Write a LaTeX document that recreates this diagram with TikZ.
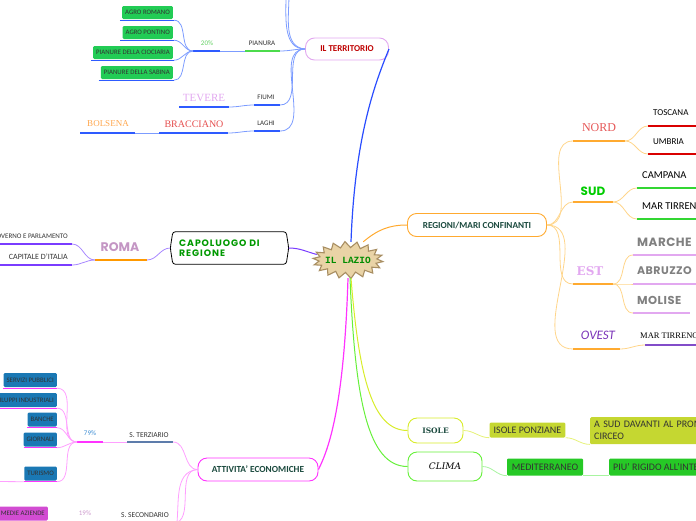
\documentclass[tikz,border=0pt]{standalone}
\usepackage{fontspec}
\setmainfont{Carlito}
\newfontfamily\popf{Poppins}
\newfontfamily\popw{Poppins}[LetterSpace=10]
\newfontfamily\popm{Poppins}[LetterSpace=4]
\newfontfamily\lserif{Liberation Serif}
\newfontfamily\lmono{Liberation Mono}
\newfontfamily\dserif{DejaVu Serif}
\definecolor{tline}{HTML}{7C9CFF}
\definecolor{ublue}{HTML}{2E5BFF}
\definecolor{mainblue}{HTML}{2A4DFF}
\definecolor{gbox}{HTML}{22CC55}
\definecolor{orgline}{HTML}{FFD58A}
\definecolor{orgmain}{HTML}{FFAA30}
\definecolor{purp}{HTML}{7A3CFF}
\definecolor{lpurp}{HTML}{A888FF}
\definecolor{magen}{HTML}{FF33FF}
\definecolor{lmagen}{HTML}{FFA0FF}
\definecolor{ylg}{HTML}{D8EC2A}
\definecolor{lylg}{HTML}{E6F27A}
\definecolor{grn}{HTML}{66F03A}
\definecolor{lgrn}{HTML}{A8F4A0}
\definecolor{tbox}{HTML}{1A78B4}
\definecolor{dkgreen}{HTML}{1B4A3E}
\definecolor{txt}{HTML}{333333}
\definecolor{lav}{HTML}{E2A8F0}
\definecolor{starfill}{HTML}{E9D3A6}
\definecolor{starline}{HTML}{A88E62}
\begin{document}
\begin{tikzpicture}[x=1pt,y=-1pt,
  lbl/.style={inner sep=0pt, text=txt, font=\fontsize{7}{8}\selectfont},
  ul/.style={line width=1.3pt},
  con/.style={line width=0.8pt},
  gb/.style={fill=gbox, rounded corners=1.2pt, inner xsep=3pt, minimum height=13pt, inner ysep=0pt, anchor=east, text=txt, font=\fontsize{6.8}{7}\selectfont},
  tb/.style={fill=tbox, rounded corners=1.2pt, inner xsep=3pt, minimum height=14pt, inner ysep=0pt, anchor=east, text=txt, font=\fontsize{6.8}{7}\selectfont},
  rbox/.style={draw, rounded corners=9pt, line width=0.9pt, fill=white, inner sep=0pt},
  mbox/.style={rounded corners=1.2pt, inner xsep=4pt, inner ysep=0pt, text=txt, font=\fontsize{10}{12}\selectfont}
]
\useasboundingbox (0,0) rectangle (696,520);
\clip (0,0) rectangle (696,520);

% ===== centre =====
\draw[starline, fill=starfill, line width=1.1pt, line join=miter]
  plot[samples at={0,...,35}, variable=\i]
  ({348+ifthenelse(mod(\i,2)==0,35,29)*cos(10*\i+5)}, {260+ifthenelse(mod(\i,2)==0,18.5,12.5)*sin(10*\i+5)}) -- cycle;
\node[minimum width=62pt, minimum height=36pt, inner sep=0pt,
  font=\lmono\bfseries\fontsize{9.5}{10}\selectfont, text=green!55!black] (lazio) at (348,260) {IL LAZIO};

% ===== IL TERRITORIO =====
\node[rbox, draw=lav, minimum width=83pt, minimum height=22pt, text=red!75!black,
  font=\bfseries\fontsize{9}{10}\selectfont] (terr) at (347,49) {IL TERRITORIO};
\draw[mainblue, line width=1.2pt] ([xshift=3pt]lazio.north) .. controls +(4,-110) and +(-12,30) .. (terr.east);

\node[lbl] (pian) at (262,43) {PIANURA};
\coordinate (pianL) at (245,51); \coordinate (pianR) at (280,51);
\draw[ul, green!80!black!70] (pianL) -- (pianR);
\node[lbl, text=green!70!black!60] (p20) at (207,43) {20\%};
\coordinate (p20L) at (193,51); \coordinate (p20R) at (220,51);
\draw[ul, ublue] (p20L) -- (p20R);
\draw[con, tline] (terr.west) to[out=180,in=0] (pianR);
\draw[con, tline] (pianL) -- (p20R);

\node[gb] (agro1) at (173,12.5) {AGRO ROMANO};
\node[gb] (agro2) at (173,32.5) {AGRO PONTINO};
\node[gb] (agro3) at (173,52.5) {PIANURE DELLA CIOCIARIA};
\node[gb] (agro4) at (173,72.5) {PIANURE DELLA SABINA};
\foreach \n in {agro1,agro2,agro3,agro4}{
  \draw[ul, ublue] ([yshift=-1pt,xshift=-2pt]\n.south west) -- ([yshift=-1pt,xshift=1pt]\n.south east);
  \draw[con, tline] (p20L) to[out=180,in=0] ([yshift=-1pt,xshift=1pt]\n.south east);
}

\node[lbl] (fiumi) at (266,97) {FIUMI};
\coordinate (fiuL) at (254,105); \coordinate (fiuR) at (280,105);
\draw[ul, ublue] (fiuL) -- (fiuR);
\draw[con, tline] (terr.west) to[out=180,in=0] (fiuR);
\node[inner sep=0pt, text=lav, font=\lserif\fontsize{11}{12}\selectfont] (tevere) at (204,98) {TEVERE};
\coordinate (tevL) at (179,107); \coordinate (tevR) at (229,107);
\draw[ul, ublue] (tevL) -- (tevR);
\draw[con, tline] (fiuL) to[out=180,in=0] (tevR);

\node[lbl] (laghi) at (266,123) {LAGHI};
\coordinate (lagL) at (254,131); \coordinate (lagR) at (280,131);
\draw[ul, ublue] (lagL) -- (lagR);
\draw[con, tline] (terr.west) to[out=180,in=0] (lagR);
\node[inner sep=0pt, text=red!55!pink!90!black, font=\lserif\fontsize{10}{11}\selectfont] (brac) at (194,124) {BRACCIANO};
\coordinate (braL) at (159,133); \coordinate (braR) at (228,133);
\draw[ul, ublue] (braL) -- (braR);
\draw[con, tline] (lagL) to[out=180,in=0] (braR);
\node[inner sep=0pt, text=orange!70!white, font=\lserif\fontsize{9}{10}\selectfont] (bols) at (108,124) {BOLSENA};
\coordinate (bolL) at (80,133); \coordinate (bolR) at (135,133);
\draw[ul, ublue] (bolL) -- (bolR);
\draw[con, tline] (braL) -- (bolR);

\coordinate (tup1) at (286,-5); \coordinate (tup2) at (289,-5);
\draw[con, tline] (terr.west) to[out=180,in=-90] (tup1);
\draw[con, tline] (terr.west) to[out=175,in=-90] (tup2);

% ===== CAPOLUOGO =====
\node[minimum width=113pt, minimum height=32pt, inner sep=0pt] (capo) at (229.5,248) {};
\draw[line width=0.8pt, rounded corners=2.5pt] (capo.north west) -- (capo.north east) -- ([xshift=2.5pt]capo.east) -- (capo.south east) -- (capo.south west) -- ([xshift=-2.5pt]capo.west) -- cycle;
\node[anchor=west, inner sep=0pt, align=left, text=green!60!black, font=\popw\bfseries\fontsize{9.3}{10}\selectfont] (capot) at (179,248) {CAPOLUOGO DI\\REGIONE};
\draw[purp, line width=1pt] (capo.east) ++(2.5pt,0) to[out=0,in=165] (lazio.170);
\node[inner sep=0pt, text=violet!40!white!90!gray, font=\popf\bfseries\fontsize{12.5}{13}\selectfont] (roma) at (120,247) {ROMA};
\coordinate (romL) at (95,260); \coordinate (romR) at (147,260);
\draw[ul, orange!80!yellow] (romL) -- (romR);
\draw[con, lpurp] (capo.west) ++(-2.5pt,0) to[out=180,in=0] (romR);
\node[lbl, anchor=east] (gov) at (68,236) {GOVERNO E PARLAMENTO};
\coordinate (govL) at (-2,244); \coordinate (govR) at (72,244);
\node[lbl, anchor=east, font=\fontsize{8}{9}\selectfont] (cap) at (68,257) {CAPITALE D'ITALIA};
\coordinate (capL) at (-2,265); \coordinate (capR) at (72,265);
\draw[ul, purp] (govL) -- (govR);
\draw[ul, purp] (capL) -- (capR);
\draw[con, lpurp] (romL) to[out=180,in=0] (govR);
\draw[con, lpurp] (romL) to[out=180,in=0] (capR);

% ===== REGIONI/MARI CONFINANTI =====
\node[rbox, draw=orgmain, minimum width=139pt, minimum height=23pt, text=dkgreen,
  font=\bfseries\fontsize{9.2}{10}\selectfont] (reg) at (477,225) {REGIONI/MARI CONFINANTI};
\draw[orgmain, line width=1pt] (lazio.50) to[out=40,in=180] (reg.west);

\node[inner sep=0pt, text=red!50!pink!90!black, font=\lserif\fontsize{12}{13}\selectfont] (nord) at (599,128) {NORD};
\coordinate (nordL) at (573,141); \coordinate (nordR) at (625,141);
\node[inner sep=0pt, text=green!80!black, font=\popf\bfseries\fontsize{12}{13}\selectfont] (sud) at (593,191) {SUD};
\coordinate (sudL) at (573,202); \coordinate (sudR) at (613,202);
\node[inner sep=0pt, text=lav, font=\dserif\bfseries\fontsize{12}{13}\selectfont] (est) at (590,271) {EST};
\coordinate (estL) at (573,284); \coordinate (estR) at (613,284);
\node[inner sep=0pt, text=violet!70!blue!80!white, font=\itshape\fontsize{13}{14}\selectfont] (ovest) at (598,335) {OVEST};
\coordinate (ovL) at (573,349); \coordinate (ovR) at (620,349);
\foreach \a/\b in {nordL/nordR,sudL/sudR,estL/estR,ovL/ovR}{
  \draw[ul, orgmain] (\a) -- (\b);
  \draw[con, orgline] (reg.east) to[out=0,in=180] (\a);
}

\node[anchor=west, inner sep=0pt, font=\fontsize{9}{10}\selectfont] (tosc) at (653,113) {TOSCANA};
\coordinate (toscL) at (648,126); \coordinate (toscR) at (700,126);
\node[anchor=west, inner sep=0pt, font=\fontsize{9}{10}\selectfont] (umb) at (653,142) {UMBRIA};
\coordinate (umbL) at (648,154); \coordinate (umbR) at (700,154);
\draw[ul, red!85!black] (toscL) -- (toscR);
\draw[ul, red!85!black] (umbL) -- (umbR);
\draw[con, orgline] (nordR) to[out=0,in=180] (toscL);
\draw[con, orgline] (nordR) to[out=0,in=180] (umbL);

\node[anchor=west, inner sep=0pt, font=\fontsize{10.5}{11}\selectfont] (camp) at (642,175) {CAMPANA};
\coordinate (campL) at (637,188); \coordinate (campR) at (700,188);
\node[anchor=west, inner sep=0pt, font=\fontsize{10.5}{11}\selectfont] (mart) at (642,206) {MAR TIRRENO};
\coordinate (martL) at (637,219); \coordinate (martR) at (700,219);
\draw[ul, green!80!black!80] (campL) -- (campR);
\draw[ul, green!80!black!80] (martL) -- (martR);
\draw[con, orgline] (sudR) to[out=0,in=180] (campL);
\draw[con, orgline] (sudR) to[out=0,in=180] (martL);

\node[anchor=west, inner sep=0pt, text=gray, font=\popm\bfseries\fontsize{12}{13}\selectfont] (marc) at (637,242) {MARCHE};
\coordinate (marcL) at (633,255); \coordinate (marcR) at (700,255);
\node[anchor=west, inner sep=0pt, text=gray, font=\popm\bfseries\fontsize{11}{12}\selectfont] (abr) at (637,271) {ABRUZZO};
\coordinate (abrL) at (633,284); \coordinate (abrR) at (700,284);
\node[anchor=west, inner sep=0pt, text=gray, font=\popm\bfseries\fontsize{11.5}{12}\selectfont] (mol) at (637,300) {MOLISE};
\coordinate (molL) at (633,313); \coordinate (molR) at (690,313);
\foreach \a/\b in {marcL/marcR,abrL/abrR,molL/molR}{
  \draw[ul, lav] (\a) -- (\b);
  \draw[con, orgline] (estR) to[out=0,in=180] (\a);
}

\node[anchor=west, inner sep=0pt, font=\lserif\fontsize{8.5}{10}\selectfont] (ovmar) at (640,336) {MAR TIRRENO};
\coordinate (ovmL) at (645,345); \coordinate (ovmR) at (700,345);
\draw[ul, violet!60!blue!70] (ovmL) -- (ovmR);
\draw[con, orgline] (ovR) to[out=0,in=180] (ovmL);

% ===== ISOLE =====
\node[rbox, draw=ylg, minimum width=55pt, minimum height=25pt, text=dkgreen,
  font=\dserif\bfseries\fontsize{7.5}{8}\selectfont] (isole) at (435.5,430.5) {ISOLE};
\draw[ylg, line width=1pt] ([xshift=3pt]lazio.south) .. controls +(8,100) and +(-35,0) .. (isole.west);
\node[mbox, fill=ylg!90!black!95, minimum width=75pt, minimum height=15pt] (ponz) at (527.5,430) {ISOLE PONZIANE};
\node[mbox, fill=ylg!90!black!95, anchor=north west, minimum height=27pt, align=left, text width=160pt] (asud) at (590,417) {A SUD DAVANTI AL PROMONTORIO\\CIRCEO};
\draw[con, lylg] (isole.east) to[out=0,in=180] (ponz.south west);
\draw[con, lylg] (ponz.south east) to[out=0,in=180] (asud.south west);

% ===== CLIMA =====
\node[rbox, draw=grn, minimum width=74pt, minimum height=29pt,
  font=\dserif\itshape\fontsize{9}{10}\selectfont] (clima) at (445,466.5) {CLIMA};
\draw[grn, line width=1pt] ([xshift=2pt]lazio.south) .. controls +(5,120) and +(-40,0) .. (clima.west);
\node[mbox, fill=green!75!black!85, minimum width=76pt, minimum height=17pt] (medit) at (545,467) {MEDITERRANEO};
\node[mbox, fill=green!75!black!85, anchor=west, minimum height=17pt] (piu) at (609,467) {PIU' RIGIDO ALL'INTERNO};
\draw[con, lgrn] (clima.east) to[out=0,in=180] (medit.south west);
\draw[con, lgrn] (medit.south east) -- (piu.south west);

% ===== ATTIVITA' ECONOMICHE =====
\node[rbox, draw=magen, minimum width=120pt, minimum height=23pt, text=dkgreen,
  font=\bfseries\fontsize{9.3}{10}\selectfont] (att) at (258,469.5) {ATTIVITA' ECONOMICHE};
\draw[magen, line width=1.2pt] (lazio.south) .. controls +(-4,130) and +(10,-20) .. (att.east);

\node[lbl, font=\fontsize{7.5}{8}\selectfont] (terz) at (149,435) {S. TERZIARIO};
\coordinate (terzL) at (127,442); \coordinate (terzR) at (173,442);
\draw[ul, cyan!50!blue!70!black!80] (terzL) -- (terzR);
\draw[con, lmagen] (att.west) to[out=180,in=0] (terzR);
\node[lbl, font=\fontsize{7.5}{8}\selectfont] (sec) at (145,515) {S. SECONDARIO};
\coordinate (secR) at (173,523);
\draw[con, lmagen] (att.west) to[out=180,in=0] (secR);
\coordinate (secR2) at (176,530);
\draw[con, lmagen] (att.west) to[out=185,in=80] (secR2);

\node[lbl, text=cyan!60!blue!80] (p79) at (90,433) {79\%};
\coordinate (p79L) at (77,442); \coordinate (p79R) at (103,442);
\draw[ul, magen] (p79L) -- (p79R);
\draw[con, lmagen] (terzL) -- (p79R);

\node[tb] (serv) at (57,380) {SERVIZI PUBBLICI};
\node[tb] (svil) at (57,400) {SVILUPPI INDUSTRIALI};
\node[tb] (banc) at (57,419.5) {BANCHE};
\node[tb] (gior) at (57,439.5) {GIORNALI};
\node[tb] (tur) at (57,473.5) {TURISMO};
\foreach \n in {serv,svil,banc,gior,tur}{
  \draw[ul, magen] ([yshift=-1pt]\n.south west) -- ([yshift=-1pt]\n.south east);
  \draw[con, lmagen] (p79L) to[out=180,in=0] ([yshift=-1pt]\n.south east);
}
\coordinate (turoff) at (-5,481.5);
\draw[con, lmagen] (turoff) -- ([yshift=-1pt]tur.south west);

\node[lbl, text=violet!40!white] (p19) at (85,513) {19\%};
\node[tb, fill=violet!50!magenta!70!white] (pmi) at (48,513.5) {PICCOLE E MEDIE AZIENDE};
\end{tikzpicture}
\end{document}
